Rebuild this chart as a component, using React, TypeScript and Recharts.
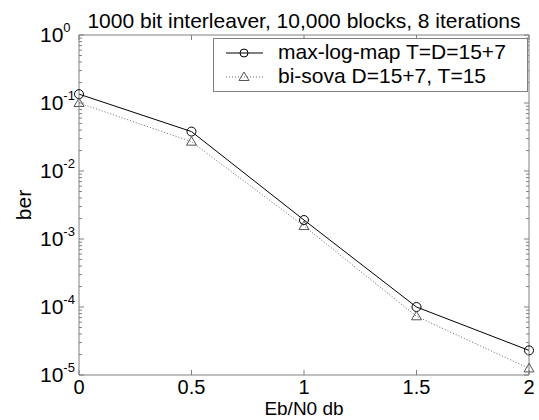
import { Label, Legend, Line, LineChart, XAxis, YAxis } from "recharts";

const ebN0 = [0, 0.5, 1, 1.5, 2];
const maxLogMap = [0.135, 0.038, 0.0019, 1.0e-4, 2.3e-5];
const biSova = [0.1, 0.027, 0.00155, 7.3e-5, 1.25e-5];

const xTicks = [0, 0.5, 1, 1.5, 2];
const decades = [-5, -4, -3, -2, -1, 0];

const TITLE = "1000 bit interleaver, 10,000 blocks, 8 iterations";
const SERIES_NAMES = ["max-log-map T=D=15+7", "bi-sova D=15+7, T=15"];

const FONT = "Arial, 'Liberation Sans', sans-serif";
const AXIS_GREY = "#808080";

// major ticks at each decade, minor ticks at 2..9 inside each decade
const yTicks: number[] = [];
for (const d of decades) {
  yTicks.push(Math.pow(10, d));
  if (d < 0) for (let k = 2; k <= 9; k++) yTicks.push(k * Math.pow(10, d));
}

const rows = ebN0.map((x, i) => ({ x, maxlog: maxLogMap[i], bisova: biSova[i] }));

function isMajor(v: number) {
  const e = Math.log10(v);
  return Math.abs(e - Math.round(e)) < 1e-6;
}

function LeftTick(props: any) {
  const { x, y, payload } = props;
  const v = payload.value as number;
  const major = isMajor(v);
  return (
    <g>
      <line x1={x} x2={x + (major ? 5 : 3)} y1={y} y2={y} stroke={AXIS_GREY} />
      {major && (
        <text x={x - 39} y={y + 7} fontSize={21} fontFamily={FONT} fill="#000">
          <tspan>10</tspan>
          <tspan dy={-10} fontSize={13}>{Math.round(Math.log10(v))}</tspan>
        </text>
      )}
    </g>
  );
}

function RightTick(props: any) {
  const { x, y, payload } = props;
  const major = isMajor(payload.value);
  return <line x1={x - (major ? 5 : 3)} x2={x} y1={y} y2={y} stroke={AXIS_GREY} />;
}

function BottomTick(props: any) {
  const { x, y, payload } = props;
  return (
    <g>
      <line x1={x} x2={x} y1={y} y2={y - 5} stroke={AXIS_GREY} />
      <text x={x} y={y + 19} textAnchor="middle" fontSize={20} fontFamily={FONT} fill="#000">
        {String(payload.value)}
      </text>
    </g>
  );
}

function TopTick(props: any) {
  const { x, y } = props;
  return <line x1={x} x2={x} y1={y} y2={y + 5} stroke={AXIS_GREY} />;
}

function Circle(props: any) {
  const { cx, cy } = props;
  if (cx == null || cy == null) return null;
  return <circle cx={cx} cy={cy} r={4.5} fill="none" stroke="#000" strokeWidth={1} />;
}

function Triangle(props: any) {
  const { cx, cy } = props;
  if (cx == null || cy == null) return null;
  return (
    <polygon
      points={`${cx},${cy - 5} ${cx - 5},${cy + 3.5} ${cx + 5},${cy + 3.5}`}
      fill="none"
      stroke="#555"
      strokeWidth={1}
    />
  );
}

function LegendBox() {
  const marker = (i: number) => (
    <svg width={50} height={24} style={{ display: "block" }}>
      {i === 0 ? (
        <>
          <line x1={12} x2={49} y1={13} y2={13} stroke="#000" />
          <circle cx={30} cy={13} r={4} fill="none" stroke="#000" />
        </>
      ) : (
        <>
          <line x1={12} x2={49} y1={13} y2={13} stroke="#666" strokeDasharray="1 2" />
          <polygon points="30,8 25,16.5 35,16.5" fill="none" stroke="#555" />
        </>
      )}
    </svg>
  );
  return (
    <div
      style={{
        boxSizing: "border-box",
        width: 315,
        height: 54,
        border: `1px solid ${AXIS_GREY}`,
        background: "#fff",
        fontFamily: FONT,
        fontSize: 21,
        lineHeight: "24px",
        paddingTop: 1,
      }}
    >
      {SERIES_NAMES.map((name, i) => (
        <div key={name} style={{ display: "flex", alignItems: "flex-start", height: 24 }}>
          {marker(i)}
          <span style={{ marginLeft: 14, whiteSpace: "nowrap" }}>{name}</span>
        </div>
      ))}
    </div>
  );
}

export default function App() {
  return (
    <div style={{ position: "absolute", left: 0, top: 0, background: "#fff" }}>
      <LineChart width={539} height={420} data={rows} margin={{ top: 0, right: 0, bottom: 0, left: 0 }}>
        <XAxis
          xAxisId="x"
          dataKey="x"
          type="number"
          domain={[0, 2]}
          ticks={xTicks}
          height={45}
          stroke={AXIS_GREY}
          tickLine={false}
          tickSize={0}
          tickMargin={0}
          tick={<BottomTick />}
          interval={0}
        >
          <Label
            content={(p: any) => (
              <text
                x={p.viewBox.x + p.viewBox.width / 2}
                y={p.viewBox.y + 40}
                textAnchor="middle"
                fontSize={19}
                fontFamily={FONT}
                fill="#000"
              >
                Eb/N0 db
              </text>
            )}
          />
        </XAxis>
        <XAxis
          xAxisId="xt"
          orientation="top"
          dataKey="x"
          type="number"
          domain={[0, 2]}
          ticks={xTicks}
          height={35}
          stroke={AXIS_GREY}
          tickLine={false}
          tickSize={0}
          tickMargin={0}
          tick={<TopTick />}
          interval={0}
        >
          <Label
            content={(p: any) => (
              <text
                x={p.viewBox.x + p.viewBox.width / 2}
                y={28}
                textAnchor="middle"
                fontSize={21}
                fontFamily={FONT}
                fill="#000"
              >
                {TITLE}
              </text>
            )}
          />
        </XAxis>
        <YAxis
          yAxisId="y"
          type="number"
          scale="log"
          domain={[1e-5, 1]}
          allowDataOverflow
          ticks={yTicks}
          width={79}
          stroke={AXIS_GREY}
          tickLine={false}
          tickSize={0}
          tickMargin={0}
          tick={<LeftTick />}
          interval={0}
        >
          <Label
            content={(p: any) => {
              const cy = p.viewBox.y + p.viewBox.height / 2;
              return (
                <text
                  x={31}
                  y={cy}
                  transform={`rotate(-90 31 ${cy})`}
                  textAnchor="middle"
                  fontSize={21}
                  fontFamily={FONT}
                  fill="#000"
                >
                  ber
                </text>
              );
            }}
          />
        </YAxis>
        <YAxis
          yAxisId="yr"
          orientation="right"
          type="number"
          scale="log"
          domain={[1e-5, 1]}
          allowDataOverflow
          ticks={yTicks}
          width={10}
          stroke={AXIS_GREY}
          tickLine={false}
          tickSize={0}
          tickMargin={0}
          tick={<RightTick />}
          interval={0}
        />
        <Legend
          layout="horizontal"
          verticalAlign="middle"
          align="center"
          content={<LegendBox />}
          wrapperStyle={{ left: 213, top: 38, width: 315, height: 54 }}
        />
        <Line
          xAxisId="x"
          yAxisId="y"
          dataKey="maxlog"
          name={SERIES_NAMES[0]}
          stroke="#000"
          strokeWidth={1}
          dot={<Circle />}
          activeDot={false}
          isAnimationActive={false}
        />
        <Line
          xAxisId="x"
          yAxisId="y"
          dataKey="bisova"
          name={SERIES_NAMES[1]}
          stroke="#666"
          strokeWidth={1}
          strokeDasharray="1 2"
          dot={<Triangle />}
          activeDot={false}
          isAnimationActive={false}
        />
      </LineChart>
    </div>
  );
}
